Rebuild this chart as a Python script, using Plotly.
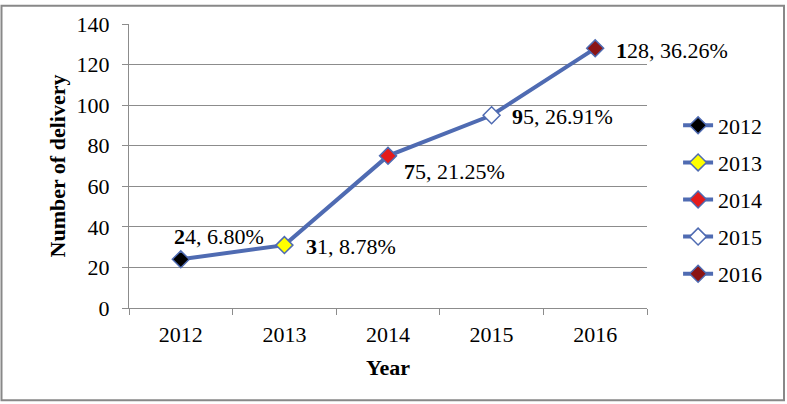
import plotly.graph_objects as go

years = ['2012', '2013', '2014', '2015', '2016']
deliveries = [24, 31, 75, 95, 128]
percents = ['6.80%', '8.78%', '21.25%', '26.91%', '36.26%']
marker_colors = ['#000000', '#FFFF00', '#E41B1B', '#FFFFFF', '#8B1414']
y_ticks = [0, 20, 40, 60, 80, 100, 120, 140]

# category positions on the x axis
x_pos = list(range(len(years)))
x_bounds = [i - 0.5 for i in range(len(years) + 1)]

# label offsets from the point, in pixels (x, y)
label_offsets = [(-9, 23), (20, -1), (14, -16), (18, -1), (19, -2)]

line_color = '#4F6BB2'
grid_color = '#8C8C8C'
font_family = 'Liberation Serif'
fnt = dict(family=font_family, size=22, color='black')

fig = go.Figure()

fig.add_trace(go.Scatter(
    x=x_pos,
    y=deliveries,
    mode='lines',
    line=dict(color=line_color, width=4),
    showlegend=False,
    hoverinfo='skip'
))

for i, year in enumerate(years):
    fig.add_trace(go.Scatter(
        x=[x_pos[i]],
        y=[deliveries[i]],
        mode='lines+markers',
        name=year,
        legendgroup=year,
        line=dict(color=line_color, width=4),
        marker=dict(symbol='diamond', size=13, color=marker_colors[i],
                    line=dict(color=line_color, width=1.5))
    ))

for i, year in enumerate(years):
    n = str(deliveries[i])
    fig.add_annotation(
        x=x_pos[i], y=deliveries[i], xref='x', yref='y',
        text='<b>%s</b>%s, %s' % (n[0], n[1:], percents[i]),
        showarrow=False, xanchor='left', yanchor='middle',
        xshift=label_offsets[i][0], yshift=label_offsets[i][1],
        font=fnt
    )

# outer chart border
fig.add_shape(type='rect', xref='paper', yref='paper',
              x0=(1.5 - 129) / 518, x1=(784 - 129) / 518,
              y0=(308 - 401.5) / 288, y1=(308 - 1.5) / 288,
              line=dict(color='#888888', width=2))

fig.update_layout(
    width=787, height=404,
    margin=dict(l=129, r=140, t=20, b=96),
    paper_bgcolor='white', plot_bgcolor='white',
    font=fnt,
    legend=dict(x=1.06, y=0.382, xanchor='left', yanchor='middle',
                traceorder='grouped', tracegroupgap=5.5,
                font=fnt, bgcolor='rgba(0,0,0,0)'),
    xaxis=dict(
        range=[-0.5, 4.5],
        tickvals=x_pos, ticktext=years, ticks='',
        showline=True, linecolor=grid_color, linewidth=1,
        showgrid=False, zeroline=False,
        minor=dict(tickvals=x_bounds, ticks='outside', ticklen=6,
                   tickcolor=grid_color, showgrid=False),
        tickfont=fnt, ticklabelstandoff=7,
        title=dict(text='<b>Year</b>', font=fnt, standoff=13)
    ),
    yaxis=dict(
        range=[0, 140], tickvals=y_ticks,
        showline=True, linecolor=grid_color, linewidth=1,
        ticks='outside', ticklen=6, tickcolor=grid_color,
        showgrid=True, gridcolor=grid_color, gridwidth=1,
        zeroline=False,
        tickfont=fnt, ticklabelstandoff=8,
        title=dict(text='<b>Number of delivery</b>', font=fnt, standoff=4)
    )
)

# drop the page's default body margin so the figure sits at the window corner
fig.write_html('out.html', config={'displayModeBar': False},
               post_script="document.body.style.margin='0';")
